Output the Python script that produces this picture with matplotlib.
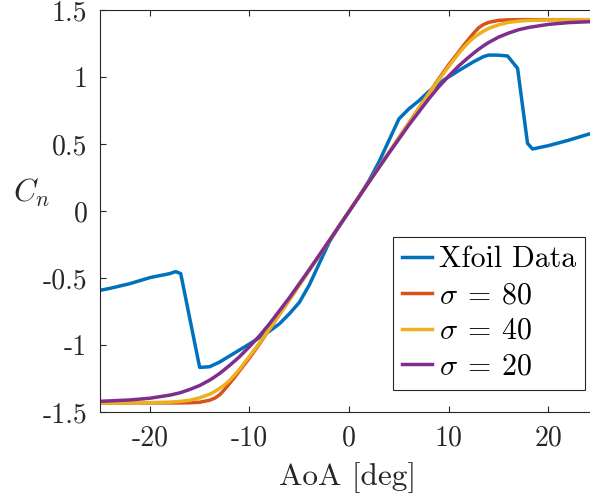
import matplotlib
matplotlib.use("Agg")
import matplotlib.pyplot as plt
from matplotlib.ticker import FixedLocator, FixedFormatter

# Xfoil polar
xfoil_aoa = [-25, -24, -22, -20, -18, -17.4, -16.9, -15.0, -14.0, -13, -12, -10, -8, -7, -6, -5,
             -4, -3, -2, -1, 0, 1, 2, 3, 4, 5, 6, 7, 8, 9.5, 11, 12.5, 13.5, 14.0, 15, 15.9,
             16.9, 17.9, 18.4, 20, 22, 24.3, 25]
xfoil_cn = [-0.59, -0.575, -0.54, -0.495, -0.465, -0.45, -0.465, -1.165, -1.16, -1.125, -1.08,
            -0.99, -0.895, -0.84, -0.765, -0.68, -0.55, -0.39, -0.23, -0.11, 0.0, 0.11, 0.23,
            0.37, 0.53, 0.69, 0.765, 0.825, 0.895, 0.98, 1.05, 1.117, 1.155, 1.166, 1.165,
            1.159, 1.067, 0.507, 0.465, 0.49, 0.53, 0.582, 0.595]

# model curves, same angle grid for all three
model_aoa = [-25, -22, -20, -18, -17, -16, -15, -14, -13.5, -13, -12.5, -12, -11.5, -11, -10,
             -9, -8, -6, -4, -2, 0, 2, 4, 6, 8, 9, 10, 11, 11.5, 12, 12.5, 13, 13.5, 14, 15,
             16, 17, 18, 20, 22, 25]
cn_s80 = [-1.43, -1.43, -1.43, -1.43, -1.43, -1.429, -1.425, -1.41, -1.395, -1.37, -1.33,
          -1.285, -1.24, -1.19, -1.095, -0.99, -0.88, -0.66, -0.44, -0.22, 0.0, 0.22, 0.44,
          0.66, 0.88, 0.99, 1.095, 1.19, 1.24, 1.285, 1.33, 1.37, 1.395, 1.41, 1.425, 1.429,
          1.43, 1.43, 1.43, 1.43, 1.43]
cn_s40 = [-1.43, -1.429, -1.428, -1.424, -1.419, -1.41, -1.392, -1.365, -1.345, -1.322,
          -1.295, -1.262, -1.222, -1.178, -1.082, -0.982, -0.88, -0.66, -0.44, -0.22, 0.0,
          0.22, 0.44, 0.66, 0.88, 0.982, 1.082, 1.178, 1.222, 1.262, 1.295, 1.322, 1.345,
          1.365, 1.392, 1.41, 1.419, 1.424, 1.428, 1.429, 1.43]
cn_s20 = [-1.418, -1.408, -1.395, -1.372, -1.355, -1.33, -1.30, -1.26, -1.236, -1.21,
          -1.181, -1.15, -1.118, -1.085, -1.01, -0.93, -0.84, -0.645, -0.435, -0.22, 0.0,
          0.22, 0.435, 0.645, 0.84, 0.93, 1.01, 1.085, 1.118, 1.15, 1.181, 1.21, 1.236, 1.26,
          1.30, 1.33, 1.355, 1.372, 1.395, 1.408, 1.418]

x_ticks = [-20, -10, 0, 10, 20]
x_tick_labels = ['-20', '-10', '0', '10', '20']
y_ticks = [-1.5, -1, -0.5, 0, 0.5, 1, 1.5]
y_tick_labels = ['-1.5', '-1', '-0.5', '0', '0.5', '1', '1.5']

plt.rcParams['font.family'] = 'serif'
plt.rcParams['font.serif'] = ['cmr10']
plt.rcParams['mathtext.fontset'] = 'cm'
plt.rcParams['axes.unicode_minus'] = False

axcol = '#262626'
lw = 2.5

fig = plt.figure(figsize=(5.9, 5.03), dpi=100)
ax = fig.add_axes([100 / 590, 90.7 / 503, 498.3 / 590, 402 / 503])

ax.plot(xfoil_aoa, xfoil_cn, color='#0072BD', lw=lw, label='Xfoil Data')
ax.plot(model_aoa, cn_s80, color='#D95319', lw=lw, label=r'$\sigma\:=\:80$')
ax.plot(model_aoa, cn_s40, color='#EDB120', lw=lw, label=r'$\sigma\:=\:40$')
ax.plot(model_aoa, cn_s20, color='#7E2F8E', lw=lw, label=r'$\sigma\:=\:20$')

ax.set_xlim(-25, 25)
ax.set_ylim(-1.5, 1.5)
ax.xaxis.set_major_locator(FixedLocator(x_ticks))
ax.xaxis.set_major_formatter(FixedFormatter(x_tick_labels))
ax.yaxis.set_major_locator(FixedLocator(y_ticks))
ax.yaxis.set_major_formatter(FixedFormatter(y_tick_labels))
ax.tick_params(direction='in', top=True, right=False, length=4, width=0.8,
               color=axcol, labelcolor=axcol, labelsize=20)
ax.tick_params(axis='x', pad=9)
ax.tick_params(axis='y', pad=9)
for s in ax.spines.values():
    s.set_color(axcol)
    s.set_linewidth(0.8)
ax.spines['right'].set_visible(False)

ax.set_xlabel('AoA [deg]', fontsize=22.5, color=axcol)
ax.xaxis.set_label_coords(0.496, -0.125)
ax.set_ylabel(r'$C_n$', fontsize=22.5, color=axcol, rotation=0, va='center', ha='center')
ax.yaxis.set_label_coords(-0.137, 0.545)

leg = ax.legend(loc='upper left', bbox_to_anchor=(0.588, 0.436), borderaxespad=0,
                fontsize=21.5, fancybox=False, framealpha=1, edgecolor=axcol,
                handlelength=1.0, handletextpad=0.25, labelspacing=0.28,
                borderpad=0.3)
leg.get_frame().set_linewidth(0.8)

fig.savefig('out.png', dpi=100)
